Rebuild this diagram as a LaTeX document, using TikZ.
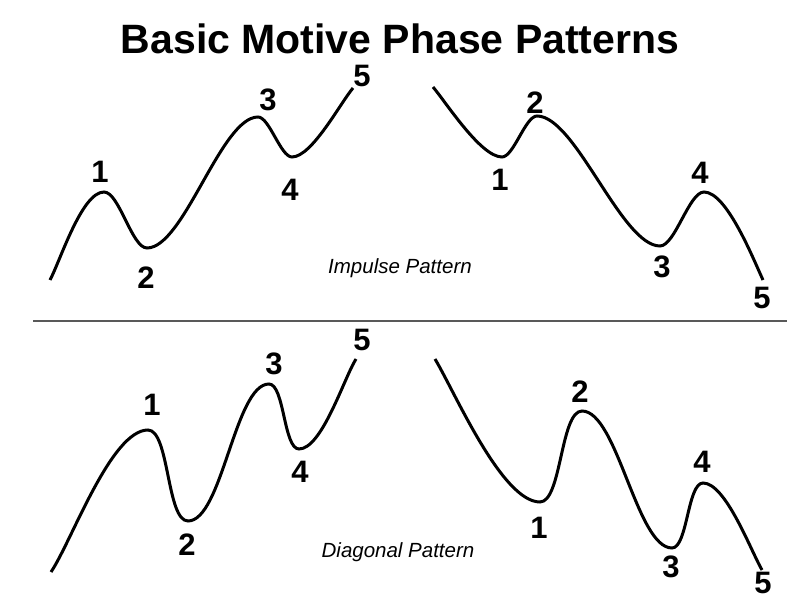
\documentclass[tikz,border=0pt]{standalone}
\usepackage{fontspec}
\setmainfont{Liberation Sans}
\begin{document}
\begin{tikzpicture}[x=1pt,y=1pt,
  wave/.style={line width=3pt, black, looseness=0.55},
  num/.style={font=\bfseries\fontsize{31}{34}\selectfont, inner sep=0pt},
  caption/.style={font=\itshape\fontsize{20.5}{24}\selectfont, inner sep=0pt},
  titletext/.style={font=\bfseries\fontsize{41}{46}\selectfont, inner sep=0pt},
  sep/.style={line width=1.5pt, gray!70!black}]
\fill[white] (0,0) rectangle (800,600);
\useasboundingbox (0,0) rectangle (800,600);

\node[titletext] (title) at (400,561) {Basic Motive Phase Patterns};

% separator
\coordinate (s0) at (33,279);
\coordinate (s1) at (787,279);
\draw[sep] (s0) -- (s1);

% top-left impulse
\coordinate (a0) at (50,320);
\coordinate (a1) at (104,408);
\coordinate (a2) at (147,352);
\coordinate (a3) at (258,483);
\coordinate (a4) at (292,443);
\coordinate (a5) at (353,512);
\draw[wave] (a0) to[out=62,in=180] (a1) to[out=0,in=180] (a2)
  to[out=0,in=180] (a3) to[out=0,in=180] (a4) to[out=0,in=230] (a5);
\node[num] (la1) at (100,428) {1};
\node[num] (la2) at (146,322) {2};
\node[num] (la3) at (268,500) {3};
\node[num] (la4) at (290,410) {4};
\node[num] (la5) at (362,524) {5};

% top-right impulse
\coordinate (b0) at (433,513);
\coordinate (b1) at (502,443);
\coordinate (b2) at (537,484);
\coordinate (b3) at (660,354);
\coordinate (b4) at (704,408);
\coordinate (b5) at (763,320);
\draw[wave] (b0) to[out=-50,in=180] (b1) to[out=0,in=180] (b2)
  to[out=0,in=180] (b3) to[out=0,in=180] (b4) to[out=0,in=115] (b5);
\node[num] (lb1) at (500,420) {1};
\node[num] (lb2) at (535,497) {2};
\node[num] (lb3) at (662,333) {3};
\node[num] (lb4) at (700,427) {4};
\node[num] (lb5) at (762,302) {5};

\node[caption] (impulse) at (400,332) {Impulse Pattern};

% bottom-left diagonal
\coordinate (c0) at (51,28);
\coordinate (c1) at (148,170);
\coordinate (c2) at (188,79);
\coordinate (c3) at (269,216);
\coordinate (c4) at (299,151);
\coordinate (c5) at (356,241);
\draw[wave] (c0) to[out=56,in=180] (c1) to[out=0,in=180] (c2)
  to[out=0,in=180] (c3) to[out=0,in=180] (c4) to[out=0,in=238] (c5);
\node[num] (lc1) at (152,195) {1};
\node[num] (lc2) at (187,55) {2};
\node[num] (lc3) at (274,236) {3};
\node[num] (lc4) at (300,128) {4};
\node[num] (lc5) at (362,260) {5};

% bottom-right diagonal
\coordinate (d0) at (435,241);
\coordinate (d1) at (540,98);
\coordinate (d2) at (582,189);
\coordinate (d3) at (672,52);
\coordinate (d4) at (703,117);
\coordinate (d5) at (762,30);
\draw[wave] (d0) to[out=-59,in=180] (d1) to[out=0,in=180] (d2)
  to[out=0,in=180] (d3) to[out=0,in=180] (d4) to[out=0,in=120] (d5);
\node[num] (ld1) at (539,72) {1};
\node[num] (ld2) at (580,208) {2};
\node[num] (ld3) at (671,33) {3};
\node[num] (ld4) at (702,138) {4};
\node[num] (ld5) at (763,17) {5};

\node[caption] (diagonal) at (398,48) {Diagonal Pattern};
\end{tikzpicture}
\end{document}
